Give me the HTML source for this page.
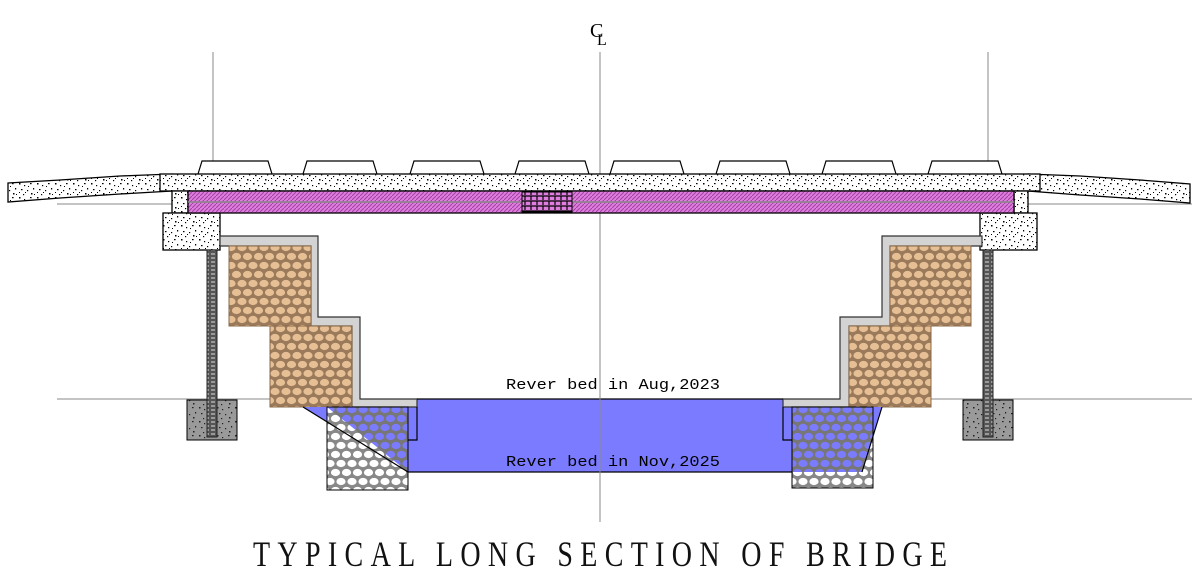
<!DOCTYPE html>
<html><head><meta charset="utf-8"><style>
html,body{margin:0;padding:0;background:#fff;width:1192px;height:582px;overflow:hidden}
</style></head><body>
<svg width="1192" height="582" viewBox="0 0 1192 582" xmlns="http://www.w3.org/2000/svg">
<defs>
<pattern id="st" width="18" height="14" patternUnits="userSpaceOnUse">
<rect width="18" height="14" fill="#fff"/>
<g fill="#000">
<rect x="1" y="1" width="1.5" height="1.5"/><rect x="6" y="3" width="1.2" height="1.2"/><rect x="12" y="1" width="1.6" height="1.2"/>
<rect x="15" y="6" width="1.2" height="1.5"/><rect x="3" y="7" width="1.5" height="1.2"/><rect x="9" y="8" width="1.2" height="1.2"/>
<rect x="13" y="11" width="1.5" height="1.5"/><rect x="5" y="12" width="1.2" height="1.2"/><rect x="1" y="10" width="1" height="1"/>
<rect x="10" y="4" width="1" height="1"/><rect x="16" y="12" width="1" height="1"/><rect x="7" y="10" width="1" height="1"/>
</g></pattern>
<pattern id="stg" width="18" height="14" patternUnits="userSpaceOnUse">
<rect width="18" height="14" fill="#9a9a9a"/>
<g fill="#222">
<rect x="1" y="1" width="1.5" height="1.5"/><rect x="6" y="3" width="1.2" height="1.2"/><rect x="12" y="1" width="1.6" height="1.2"/>
<rect x="15" y="6" width="1.2" height="1.5"/><rect x="3" y="7" width="1.5" height="1.2"/><rect x="9" y="8" width="1.2" height="1.2"/>
<rect x="13" y="11" width="1.5" height="1.5"/><rect x="5" y="12" width="1.2" height="1.2"/>
</g></pattern>
<pattern id="hat" width="4" height="4" patternUnits="userSpaceOnUse">
<rect width="4" height="4" fill="#e07ee0"/>
<path d="M0 4 L4 0" stroke="#a040a0" stroke-width="1"/>
</pattern>
<pattern id="stoneB" width="22" height="18" patternUnits="userSpaceOnUse">
<rect width="22" height="18" fill="#9a7a5a"/>
<ellipse cx="5.5" cy="4.5" rx="4.6" ry="3.6" fill="#e6bf94"/><ellipse cx="16.5" cy="4.5" rx="4.6" ry="3.6" fill="#e6bf94"/>
<ellipse cx="0" cy="13.5" rx="4.6" ry="3.6" fill="#e6bf94"/><ellipse cx="11" cy="13.5" rx="4.6" ry="3.6" fill="#e6bf94"/><ellipse cx="22" cy="13.5" rx="4.6" ry="3.6" fill="#e6bf94"/>
</pattern>
<pattern id="stoneW" width="22" height="18" patternUnits="userSpaceOnUse">
<rect width="22" height="18" fill="#888"/>
<ellipse cx="5.5" cy="4.5" rx="4.6" ry="3.6" fill="#fff"/><ellipse cx="16.5" cy="4.5" rx="4.6" ry="3.6" fill="#fff"/>
<ellipse cx="0" cy="13.5" rx="4.6" ry="3.6" fill="#fff"/><ellipse cx="11" cy="13.5" rx="4.6" ry="3.6" fill="#fff"/><ellipse cx="22" cy="13.5" rx="4.6" ry="3.6" fill="#fff"/>
</pattern>
<pattern id="stoneU" width="22" height="18" patternUnits="userSpaceOnUse">
<rect width="22" height="18" fill="#777"/>
<ellipse cx="5.5" cy="4.5" rx="4.6" ry="3.6" fill="#7b7bff"/><ellipse cx="16.5" cy="4.5" rx="4.6" ry="3.6" fill="#7b7bff"/>
<ellipse cx="0" cy="13.5" rx="4.6" ry="3.6" fill="#7b7bff"/><ellipse cx="11" cy="13.5" rx="4.6" ry="3.6" fill="#7b7bff"/><ellipse cx="22" cy="13.5" rx="4.6" ry="3.6" fill="#7b7bff"/>
</pattern>
<pattern id="pile" width="6" height="4" patternUnits="userSpaceOnUse">
<rect width="6" height="4" fill="#555"/><rect x="1" y="1" width="4" height="2" fill="#999"/>
</pattern>
<pattern id="blk" width="6" height="5" patternUnits="userSpaceOnUse">
<rect width="6" height="5" fill="#e07ee0"/><path d="M0 1h6M3 1v4" stroke="#000" stroke-width="1.2"/>
</pattern>
</defs>

<g stroke="#888" stroke-width="1">
<line x1="213" y1="52" x2="213" y2="400"/>
<line x1="600" y1="52" x2="600" y2="522"/>
<line x1="988" y1="52" x2="988" y2="400"/>
<line x1="57" y1="204" x2="1192" y2="204"/>
<line x1="57" y1="399" x2="303" y2="399"/>
<line x1="880" y1="399" x2="1192" y2="399"/>
</g>
<text x="590" y="37" font-family="Liberation Serif, serif" font-size="20">C</text>
<text x="597" y="45" font-family="Liberation Serif, serif" font-size="16">L</text>

<g fill="#fff" stroke="#000" stroke-width="1.2">
<path d="M198 174 L202 161 L268 161 L272 174"/>
<path d="M303 174 L307 161 L373 161 L377 174"/>
<path d="M410 174 L414 161 L480 161 L484 174"/>
<path d="M515 174 L519 161 L585 161 L589 174"/>
<path d="M610 174 L614 161 L680 161 L684 174"/>
<path d="M716 174 L720 161 L786 161 L790 174"/>
<path d="M822 174 L826 161 L892 161 L896 174"/>
<path d="M928 174 L932 161 L998 161 L1002 174"/>
</g>

<g stroke="#000" stroke-width="1.3" fill="url(#st)">
<path d="M8 183 L60 180 L120 176 L172 174 L172 191 L120 194 L60 198 L8 202 Z"/>
<path d="M1028 174 L1080 176 L1140 180 L1190 184 L1190 203 L1140 199 L1080 195 L1028 191 Z"/>
<rect x="160" y="174" width="880" height="17"/>
<rect x="172" y="191" width="16" height="22"/>
<rect x="1014" y="191" width="14" height="22"/>
<rect x="163" y="213" width="57" height="37"/>
<rect x="980" y="213" width="57" height="37"/>
</g>
<rect x="188" y="191" width="826" height="22" fill="url(#hat)" stroke="#000" stroke-width="1.3"/>
<line x1="188" y1="202" x2="1014" y2="202" stroke="#888" stroke-width="1.5"/>
<rect x="522" y="192" width="50" height="20" fill="url(#blk)" stroke="#000"/>

<rect x="187" y="400" width="50" height="40" fill="url(#stg)" stroke="#000"/>
<rect x="963" y="400" width="50" height="40" fill="url(#stg)" stroke="#000"/>
<rect x="207" y="250" width="10" height="187" fill="url(#pile)" stroke="#222"/>
<rect x="983" y="250" width="10" height="187" fill="url(#pile)" stroke="#222"/>

<path d="M408 399 L792 399 L792 472 L408 472 Z" fill="#7b7bff"/>

<path d="M220 236 L318 236 L318 317 L360 317 L360 399 L417 399 L417 407 L352 407 L352 326 L311 326 L311 246 L220 246 Z" fill="#d3d3d3" stroke="#333" stroke-width="1.2"/>
<path d="M982 236 L882 236 L882 317 L840 317 L840 399 L783 399 L783 407 L849 407 L849 326 L890 326 L890 246 L982 246 Z" fill="#d3d3d3" stroke="#333" stroke-width="1.2"/>
<path d="M417 407 L417 440 L408 440" fill="none" stroke="#000" stroke-width="1.2"/>
<path d="M783 407 L783 440 L792 440" fill="none" stroke="#000" stroke-width="1.2"/>

<g fill="url(#stoneB)" stroke="#8a6a4a" stroke-width="1">
<rect x="229" y="246" width="82" height="80"/>
<rect x="270" y="326" width="82" height="81"/>
<rect x="890" y="246" width="81" height="80"/>
<rect x="849" y="326" width="82" height="81"/>
</g>

<line x1="417" y1="399" x2="783" y2="399" stroke="#000" stroke-width="1.3"/>
<line x1="408" y1="472" x2="792" y2="472" stroke="#000" stroke-width="1.3"/>

<rect x="327" y="407" width="81" height="83" fill="url(#stoneW)" stroke="#000"/>
<path d="M327 407 L408 407 L408 472 Z" fill="url(#stoneU)"/>
<path d="M303 407 L327 407 L327 422 Z" fill="#7b7bff"/>
<line x1="303" y1="407" x2="408" y2="472" stroke="#000" stroke-width="1.2"/>
<rect x="327" y="407" width="81" height="83" fill="none" stroke="#000"/>

<rect x="792" y="407" width="81" height="81" fill="url(#stoneW)" stroke="#000"/>
<path d="M792 407 L882 407 L862 472 L792 472 Z" fill="url(#stoneU)"/>
<path d="M873 407 L882 407 L873 437 Z" fill="#7b7bff"/>
<line x1="882" y1="407" x2="862" y2="472" stroke="#000" stroke-width="1.2"/>
<rect x="792" y="407" width="81" height="81" fill="none" stroke="#000"/>

<line x1="600" y1="390" x2="600" y2="522" stroke="#888"/>

<g font-family="Liberation Mono, monospace" font-size="15" fill="#000">
<text x="506" y="389" textLength="214" lengthAdjust="spacingAndGlyphs">Rever bed in Aug,2023</text>
<text x="506" y="466" textLength="214" lengthAdjust="spacingAndGlyphs">Rever bed in Nov,2025</text>
</g>
<g transform="scale(1,1.3)">
<text x="253" y="435.5" font-family="Liberation Serif, serif" font-size="28" textLength="694" lengthAdjust="spacing" fill="#111">TYPICAL LONG SECTION OF BRIDGE</text>
</g>
</svg>
</body></html>
